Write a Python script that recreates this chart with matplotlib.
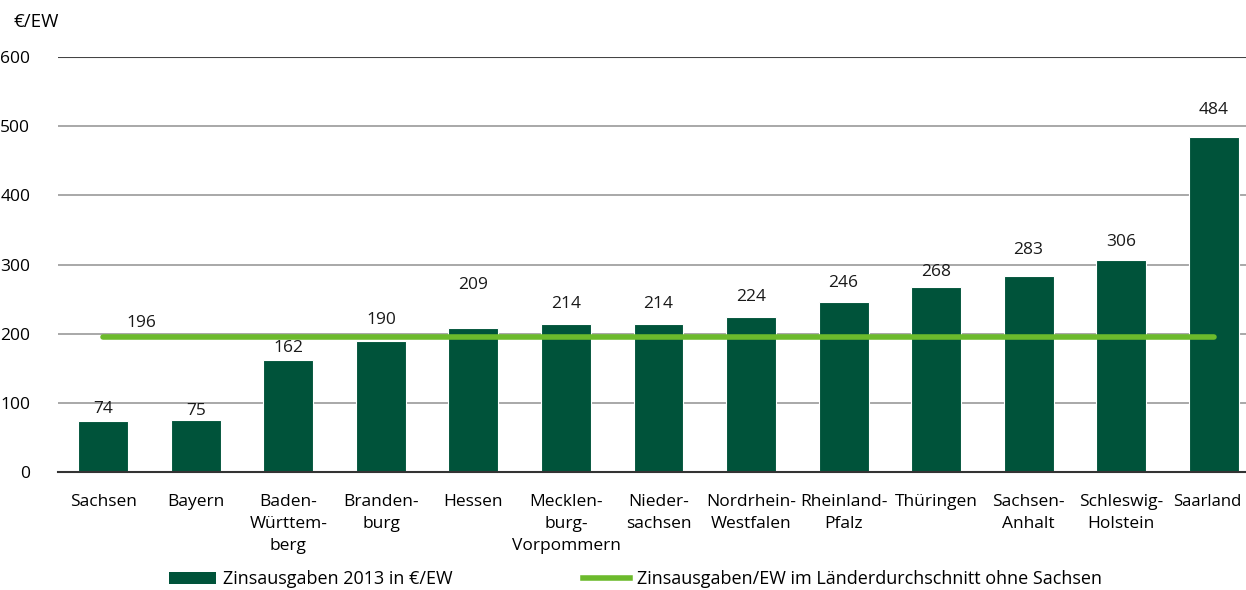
import numpy as np
import matplotlib.pyplot as plt
import matplotlib.transforms as mtransforms
from matplotlib.patches import Patch
from matplotlib.lines import Line2D

plt.rcParams['font.family'] = ['Open Sans', 'DejaVu Sans']

laender = ['Sachsen', 'Bayern', 'Baden-\nWürttem-\nberg', 'Branden-\nburg', 'Hessen',
           'Mecklen-\nburg-\nVorpommern', 'Nieder-\nsachsen', 'Nordrhein-\nWestfalen',
           'Rheinland-\nPfalz', 'Thüringen', 'Sachsen-\nAnhalt', 'Schleswig-\nHolstein', 'Saarland']
zinsausgaben = [74, 75, 162, 190, 209, 214, 214, 224, 246, 268, 283, 306, 484]
durchschnitt = 196
# label offset above bar top, pixels
label_off = [12, 9, 12, 21, 43, 20, 20, 20, 19, 15, 26, 18, 27]

bar_col = '#00533a'
line_col = '#6cba2c'

fig = plt.figure(figsize=(12.46, 5.9), dpi=100)
ax = fig.add_axes([0.0466, 0.2, 0.9534, 0.703])

x = np.arange(len(laender))
ax.bar(x, zinsausgaben, width=0.54, color=bar_col, edgecolor='white', linewidth=0.8, zorder=2)
ax.plot([x[0], x[-1]], [durchschnitt, durchschnitt], color=line_col, lw=4,
        solid_capstyle='round', zorder=3)

fs = 12.5
for xi, v, off in zip(x, zinsausgaben, label_off):
    ax.annotate(str(v), (xi, v), xytext=(0, off), textcoords='offset pixels',
                ha='center', va='center', fontsize=fs, color='#1a1a1a')
ax.annotate(str(durchschnitt), (x[0], durchschnitt), xytext=(38, 14), textcoords='offset pixels',
            ha='center', va='center', fontsize=fs, color='#1a1a1a')

ax.set_xlim(-0.49, 12.35)
ax.set_ylim(0, 600)
ax.set_yticks([0, 100, 200, 300, 400, 500, 600])
ax.set_xticks(x)
ax.set_xticklabels(laender, fontsize=fs, linespacing=1.5)
ax.tick_params(axis='y', length=0, pad=20, labelsize=fs)
ax.tick_params(axis='x', length=0, pad=16)
for t in ax.get_yticklabels():
    t.set_horizontalalignment('right')
# keep last label inside the figure
last = ax.get_xticklabels()[-1]
last.set_fontsize(12)
last.set_transform(last.get_transform() + mtransforms.ScaledTranslation(-6 / 100, 0, fig.dpi_scale_trans))

for s in ['top', 'right', 'left']:
    ax.spines[s].set_visible(False)
ax.spines['bottom'].set_color('#333333')
ax.spines['bottom'].set_linewidth(1.5)
ax.grid(axis='y', color='#999999', linewidth=1.2, zorder=0)
ax.axhline(600, color='#444444', linewidth=1.5, zorder=1)
ax.set_axisbelow(True)

fig.text(0.011, 0.963, '€/EW', fontsize=13.5, ha='left', va='center')

handles = [Patch(facecolor=bar_col), Line2D([], [], color=line_col, lw=4)]
fig.legend(handles, ['Zinsausgaben 2013 in €/EW', 'Zinsausgaben/EW im Länderdurchschnitt ohne Sachsen'],
           loc='center', bbox_to_anchor=(0.51, 0.018), ncol=2, frameon=False, fontsize=13,
           handlelength=2.6, handleheight=0.6, handletextpad=0.4, columnspacing=7.2)

fig.savefig('out.png', dpi=100)
